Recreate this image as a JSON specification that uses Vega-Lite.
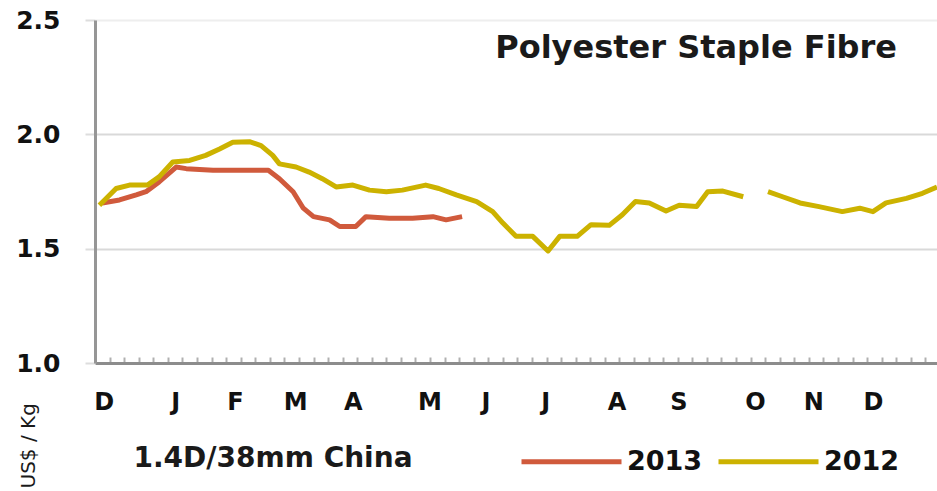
{
  "$schema": "https://vega.github.io/schema/vega-lite/v6.json",
  "width": 842,
  "height": 343,
  "autosize": {"type": "none"},
  "padding": {"left": 95, "top": 20, "right": 0, "bottom": 128},
  "background": "white",
  "config": {"view": {"stroke": null}},
  "title": {
    "text": "Polyester Staple Fibre",
    "anchor": "end",
    "frame": "group",
    "orient": "top",
    "offset": -37,
    "dx": -40,
    "dy": 45,
    "baseline": "alphabetic",
    "font": "DejaVu Sans",
    "fontSize": 32,
    "fontWeight": "bold",
    "color": "#1a1a1a"
  },
  "data": {
    "values": [
      {"year": "2013", "seg": "a", "w": 0.5, "v": 1.70},
      {"year": "2013", "seg": "a", "w": 1.68, "v": 1.713},
      {"year": "2013", "seg": "a", "w": 2.83, "v": 1.735},
      {"year": "2013", "seg": "a", "w": 3.5, "v": 1.749},
      {"year": "2013", "seg": "a", "w": 4.4, "v": 1.792},
      {"year": "2013", "seg": "a", "w": 5.57, "v": 1.857},
      {"year": "2013", "seg": "a", "w": 6.26, "v": 1.85},
      {"year": "2013", "seg": "a", "w": 8.1, "v": 1.843},
      {"year": "2013", "seg": "a", "w": 10.4, "v": 1.843},
      {"year": "2013", "seg": "a", "w": 11.9, "v": 1.843},
      {"year": "2013", "seg": "a", "w": 12.66, "v": 1.806},
      {"year": "2013", "seg": "a", "w": 13.6, "v": 1.749},
      {"year": "2013", "seg": "a", "w": 14.3, "v": 1.677},
      {"year": "2013", "seg": "a", "w": 15.0, "v": 1.64},
      {"year": "2013", "seg": "a", "w": 16.1, "v": 1.626},
      {"year": "2013", "seg": "a", "w": 16.8, "v": 1.597},
      {"year": "2013", "seg": "a", "w": 17.9, "v": 1.597},
      {"year": "2013", "seg": "a", "w": 18.6, "v": 1.64},
      {"year": "2013", "seg": "a", "w": 20.2, "v": 1.633},
      {"year": "2013", "seg": "a", "w": 21.8, "v": 1.633},
      {"year": "2013", "seg": "a", "w": 23.2, "v": 1.64},
      {"year": "2013", "seg": "a", "w": 24.1, "v": 1.626},
      {"year": "2013", "seg": "a", "w": 25.2, "v": 1.64},
      {"year": "2012", "seg": "a", "w": 0.3, "v": 1.69},
      {"year": "2012", "seg": "a", "w": 1.45, "v": 1.763},
      {"year": "2012", "seg": "a", "w": 2.37, "v": 1.778},
      {"year": "2012", "seg": "a", "w": 3.6, "v": 1.778},
      {"year": "2012", "seg": "a", "w": 4.4, "v": 1.814},
      {"year": "2012", "seg": "a", "w": 5.34, "v": 1.879},
      {"year": "2012", "seg": "a", "w": 6.5, "v": 1.886},
      {"year": "2012", "seg": "a", "w": 7.6, "v": 1.908},
      {"year": "2012", "seg": "a", "w": 8.55, "v": 1.936},
      {"year": "2012", "seg": "a", "w": 9.46, "v": 1.965},
      {"year": "2012", "seg": "a", "w": 10.6, "v": 1.968},
      {"year": "2012", "seg": "a", "w": 11.4, "v": 1.951},
      {"year": "2012", "seg": "a", "w": 12.2, "v": 1.908},
      {"year": "2012", "seg": "a", "w": 12.66, "v": 1.871},
      {"year": "2012", "seg": "a", "w": 13.8, "v": 1.857},
      {"year": "2012", "seg": "a", "w": 14.7, "v": 1.835},
      {"year": "2012", "seg": "a", "w": 15.6, "v": 1.806},
      {"year": "2012", "seg": "a", "w": 16.55, "v": 1.77},
      {"year": "2012", "seg": "a", "w": 17.7, "v": 1.778},
      {"year": "2012", "seg": "a", "w": 18.84, "v": 1.756},
      {"year": "2012", "seg": "a", "w": 20.0, "v": 1.749},
      {"year": "2012", "seg": "a", "w": 21.1, "v": 1.756},
      {"year": "2012", "seg": "a", "w": 22.7, "v": 1.778},
      {"year": "2012", "seg": "a", "w": 23.6, "v": 1.763},
      {"year": "2012", "seg": "a", "w": 24.8, "v": 1.735},
      {"year": "2012", "seg": "a", "w": 26.2, "v": 1.706},
      {"year": "2012", "seg": "a", "w": 27.3, "v": 1.662},
      {"year": "2012", "seg": "a", "w": 28.0, "v": 1.612},
      {"year": "2012", "seg": "a", "w": 28.9, "v": 1.554},
      {"year": "2012", "seg": "a", "w": 30.05, "v": 1.554},
      {"year": "2012", "seg": "a", "w": 31.1, "v": 1.49},
      {"year": "2012", "seg": "a", "w": 31.9, "v": 1.554},
      {"year": "2012", "seg": "a", "w": 33.1, "v": 1.554},
      {"year": "2012", "seg": "a", "w": 34.05, "v": 1.605},
      {"year": "2012", "seg": "a", "w": 35.3, "v": 1.602},
      {"year": "2012", "seg": "a", "w": 36.2, "v": 1.648},
      {"year": "2012", "seg": "a", "w": 37.1, "v": 1.706},
      {"year": "2012", "seg": "a", "w": 38.05, "v": 1.70},
      {"year": "2012", "seg": "a", "w": 39.2, "v": 1.665},
      {"year": "2012", "seg": "a", "w": 40.1, "v": 1.69},
      {"year": "2012", "seg": "a", "w": 41.3, "v": 1.684},
      {"year": "2012", "seg": "a", "w": 42.06, "v": 1.749},
      {"year": "2012", "seg": "a", "w": 43.1, "v": 1.752},
      {"year": "2012", "seg": "a", "w": 44.5, "v": 1.727},
      {"year": "2012", "seg": "b", "w": 46.2, "v": 1.749},
      {"year": "2012", "seg": "b", "w": 47.2, "v": 1.727},
      {"year": "2012", "seg": "b", "w": 48.4, "v": 1.70},
      {"year": "2012", "seg": "b", "w": 49.7, "v": 1.684},
      {"year": "2012", "seg": "b", "w": 51.3, "v": 1.662},
      {"year": "2012", "seg": "b", "w": 52.5, "v": 1.677},
      {"year": "2012", "seg": "b", "w": 53.4, "v": 1.662},
      {"year": "2012", "seg": "b", "w": 54.3, "v": 1.70},
      {"year": "2012", "seg": "b", "w": 55.7, "v": 1.72},
      {"year": "2012", "seg": "b", "w": 56.8, "v": 1.742},
      {"year": "2012", "seg": "b", "w": 57.8, "v": 1.77}
    ]
  },
  "mark": {"type": "line", "strokeWidth": 5, "strokeJoin": "round", "clip": true},
  "encoding": {
    "x": {
      "field": "w",
      "type": "quantitative",
      "scale": {"domain": [0, 57.8], "nice": false, "zero": false},
      "axis": {
        "values": [0,1,2,3,4,5,6,7,8,9,10,11,12,13,14,15,16,17,18,19,20,21,22,23,24,25,26,27,28,29,30,31,32,33,34,35,36,37,38,39,40,41,42,43,44,45,46,47,48,49,50,51,52,53,54,55,56,57,0.6,5.5,9.6,13.75,17.7,22.95,26.8,30.9,35.8,40.05,45.3,49.3,53.4],
        "labelExpr": "datum.value==0.6?'D':datum.value==5.5?'J':datum.value==9.6?'F':datum.value==13.75?'M':datum.value==17.7?'A':datum.value==22.95?'M':datum.value==26.8?'J':datum.value==30.9?'J':datum.value==35.8?'A':datum.value==40.05?'S':datum.value==45.3?'O':datum.value==49.3?'N':datum.value==53.4?'D':''",
        "labelOverlap": false,
        "labelFlush": false,
        "labelBound": false,
        "labelFont": "DejaVu Sans",
        "labelFontWeight": "bold",
        "labelFontSize": 24,
        "labelColor": "#111111",
        "labelPadding": 33,
        "domainColor": "#8c8c8c",
        "domainWidth": 3,
        "tickColor": "#b0b0b0",
        "tickWidth": 2,
        "tickSize": -6,
        "tickOpacity": {"condition": {"test": "datum.value % 1 != 0", "value": 0}, "value": 1},
        "grid": false,
        "title": "1.4D/38mm China",
        "titleAnchor": "start",
        "titleAlign": "left",
        "titleBaseline": "middle",
        "titleX": 38,
        "titleY": 95,
        "titleFont": "DejaVu Sans",
        "titleFontSize": 28,
        "titleFontWeight": "bold",
        "titleColor": "#1a1a1a"
      }
    },
    "y": {
      "field": "v",
      "type": "quantitative",
      "scale": {"domain": [1, 2.5], "nice": false, "zero": false},
      "axis": {
        "values": [1, 1.5, 2, 2.5],
        "format": ".1f",
        "labelFont": "DejaVu Sans",
        "labelFontWeight": "bold",
        "labelFontSize": 25,
        "labelColor": "#111111",
        "labelPadding": 25,
        "tickSize": 10,
        "tickColor": "#dddddd",
        "tickWidth": 2,
        "domainColor": "#969696",
        "domainWidth": 3,
        "grid": true,
        "gridColor": {"condition": {"test": "datum.value == 2.5", "value": "#eeeeee"}, "value": "#d9d9d9"},
        "gridWidth": 2,
        "title": "US$ / Kg",
        "titleAngle": 270,
        "titleAlign": "left",
        "titleBaseline": "middle",
        "titleX": -67,
        "titleY": 468,
        "titleFont": "DejaVu Sans",
        "titleFontSize": 20,
        "titleFontWeight": "normal",
        "titleColor": "#1a1a1a"
      }
    },
    "color": {
      "field": "year",
      "type": "nominal",
      "scale": {"domain": ["2013", "2012"], "range": ["#D05A3C", "#CCB200"]},
      "legend": {
        "orient": "none",
        "legendX": 424,
        "legendY": 389,
        "direction": "horizontal",
        "title": null,
        "symbolType": "stroke",
        "symbolSize": 10000,
        "symbolStrokeWidth": 5,
        "labelFont": "DejaVu Sans",
        "labelFontWeight": "bold",
        "labelFontSize": 27,
        "labelColor": "#111111",
        "labelOffset": 3,
        "columnPadding": 5
      }
    },
    "detail": {"field": "seg", "type": "nominal"}
  }
}
